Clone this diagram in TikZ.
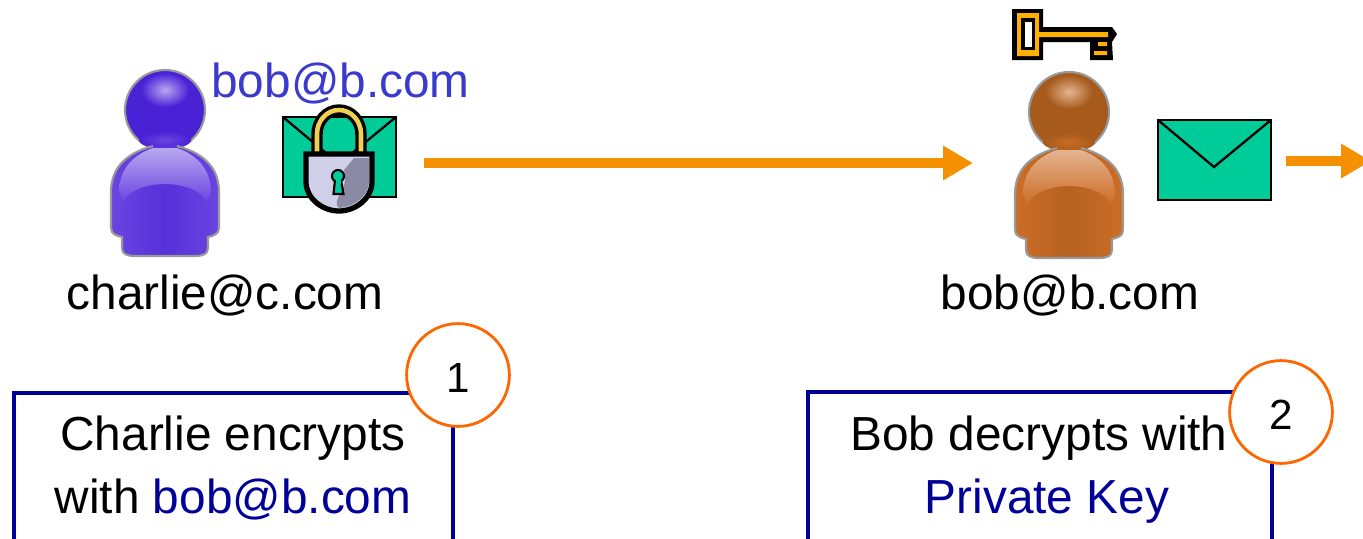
\documentclass[tikz,border=0pt]{standalone}
\usepackage{fontspec}
\setmainfont{Liberation Sans}
\usetikzlibrary{arrows.meta}
\definecolor{boxblue}{HTML}{000099}
\definecolor{mailblue}{HTML}{3A3ACC}
\definecolor{mailgreen}{HTML}{00CC99}
\definecolor{arroworange}{HTML}{F59100}
\definecolor{ringorange}{HTML}{FF6600}
\definecolor{keyyellow}{HTML}{FFB000}
\definecolor{shackleyellow}{HTML}{F0D050}
\definecolor{lockpale}{HTML}{D0D0EA}
\definecolor{lockshade}{HTML}{8A8AA4}
\definecolor{blueface}{HTML}{4A22D6}
\definecolor{bluemid}{HTML}{6A45E0}
\definecolor{bluelight}{HTML}{B8A8F0}
\definecolor{brownface}{HTML}{A65A1C}
\definecolor{brownmid}{HTML}{CC6D28}
\definecolor{brownlight}{HTML}{E4B490}
\tikzset{
	bigtext/.style={font=\fontsize{27.2}{32}\selectfont,anchor=base,inner sep=0pt},
	boxtext/.style={font=\fontsize{27.2}{32}\selectfont,anchor=base,inner sep=0pt},
	ring/.style={circle,draw=ringorange,line width=1.6pt,fill=white,minimum size=58.5pt,inner sep=0pt,font=\fontsize{24}{28}\selectfont},
	flow/.style={arroworange,line width=6pt,-{Triangle[length=17pt,width=18.5pt]}},
	stepbox/.style={boxblue,line width=1.8pt},
	softedge/.style={draw=black!40,line width=1.2pt}
}
\newcommand{\bodyline}{
	(-12,36) .. controls (-35,42) and (-54,55) .. (-54,82)
	-- (-54,118) .. controls (-54,124) and (-48,126) .. (-43,127)
	-- (-43,138) .. controls (-43,144) and (-38,146) .. (-30,146)
	-- (30,146) .. controls (38,146) and (43,144) .. (43,138)
	-- (43,127) .. controls (48,126) and (54,124) .. (54,118)
	-- (54,82) .. controls (54,55) and (35,42) .. (12,36)}
% head at (#1,#2), then the three body colours
\newcommand{\personfig}[5]{
\begin{scope}[shift={(#1,#2)}]
\fill[#3,softedge] (0,0) circle (40);
\shade[inner color=#5,outer color=#3] (0,-20) ellipse (24 and 17);
\shade[inner color=#4,outer color=#3] (0,30) ellipse (26 and 9);
\shade[left color=#4,right color=#4,middle color=#3!60!#4] \bodyline -- cycle;
\shade[top color=#5,bottom color=#4]
	(-12,38) .. controls (-30,44) and (-46,58) .. (-46,82)
	-- (-42,92) .. controls (-30,68) and (30,68) .. (42,92)
	-- (46,82) .. controls (46,58) and (30,44) .. (12,38) -- cycle;
\draw[softedge] \bodyline;
\end{scope}
}
% envelope with top left corner at (#1,#2)
\newcommand{\mailfig}[2]{
\begin{scope}[shift={(#1,#2)}]
\draw[fill=mailgreen,line width=1.3pt] (0,0) rectangle (113,80);
\draw[line width=1.3pt] (0,0)--(56,47)--(113,0);
\end{scope}
}
\begin{document}
\begin{tikzpicture}[x=0.02cm,y=-0.02cm]
\clip (0,0) rectangle (1363,538);
\fill[white] (0,0) rectangle (1363,538);
% people
\personfig{165}{110}{blueface}{bluemid}{bluelight}
\personfig{1069}{112}{brownface}{brownmid}{brownlight}
% letters
\mailfig{283}{117}
\mailfig{1158}{120}
% padlock
\draw[black,line width=6.5pt] (317,156)--(317,134) arc (180:360:22 and 24)--(361,156);
\draw[shackleyellow,line width=2.6pt] (317,154)--(317,134) arc (180:360:22 and 24)--(361,154);
\draw[fill=lockpale,line width=3pt] (306,154)--(372,154)--(372,182) .. controls (372,198) and (356,211) .. (339,211)
	.. controls (322,211) and (306,198) .. (306,182)--cycle;
\fill[lockshade] (354,158)--(369,158)--(369,182) .. controls (369,196) and (354,207) .. (339,208)
	.. controls (330,200) and (350,190) .. (344,170)--cycle;
\draw[fill=mailgreen,line width=1.2pt] (335,180)--(333.5,194)--(343.5,194)--(341,180);
\draw[fill=mailgreen,line width=1.2pt] (338,176) circle (6);
\fill[mailgreen] (335.5,179) rectangle (340.5,184);
% key
\fill[black] (1012,9)--(1043,9)--(1043,27)--(1112,27)--(1117,34)--(1112,42)--(1113,60)--(1090,60)--(1090,42)--(1043,42)--(1043,60)--(1012,60)--cycle;
\fill[keyyellow] (1017,13) rectangle (1039,56) (1039,32) rectangle (1108,37) (1098,42) rectangle (1107,46) (1094,51) rectangle (1107,55);
\fill[black] (1021,18) rectangle (1035,50);
\fill[white] (1025,22) rectangle (1032,47);
% arrows
\coordinate (senda) at (424,163);
\coordinate (sendb) at (973,163);
\coordinate (forwa) at (1286,161);
\coordinate (forwb) at (1371,161);
\draw[flow] (senda)--(sendb);
\draw[flow] (forwa)--(forwb);
% labels
\node[bigtext,text=mailblue] (lockto) at (340.5,97) {bob@b.com};
\node[bigtext] (charlie) at (225,309) {charlie@c.com};
\node[bigtext] (bob) at (1070,309) {bob@b.com};
% step boxes
\draw[stepbox] (14,545)--(14,393)--(453,393)--(453,545);
\draw[stepbox] (808,545)--(808,392)--(1272,392)--(1272,545);
\node[boxtext] (chtext) at (233,450) {Charlie encrypts};
\node[boxtext] (chkey) at (233,513.5) {with \textcolor{boxblue}{bob@b.com}};
\node[boxtext] (botext) at (1039,450) {Bob decrypts with};
\node[boxtext,text=boxblue] (bokey) at (1047,513.5) {Private Key};
\node[ring] (stepa) at (458,375) {\rule{0pt}{20pt}1};
\node[ring] (stepb) at (1281,412) {\rule{0pt}{20pt}2};
\end{tikzpicture}
\end{document}
